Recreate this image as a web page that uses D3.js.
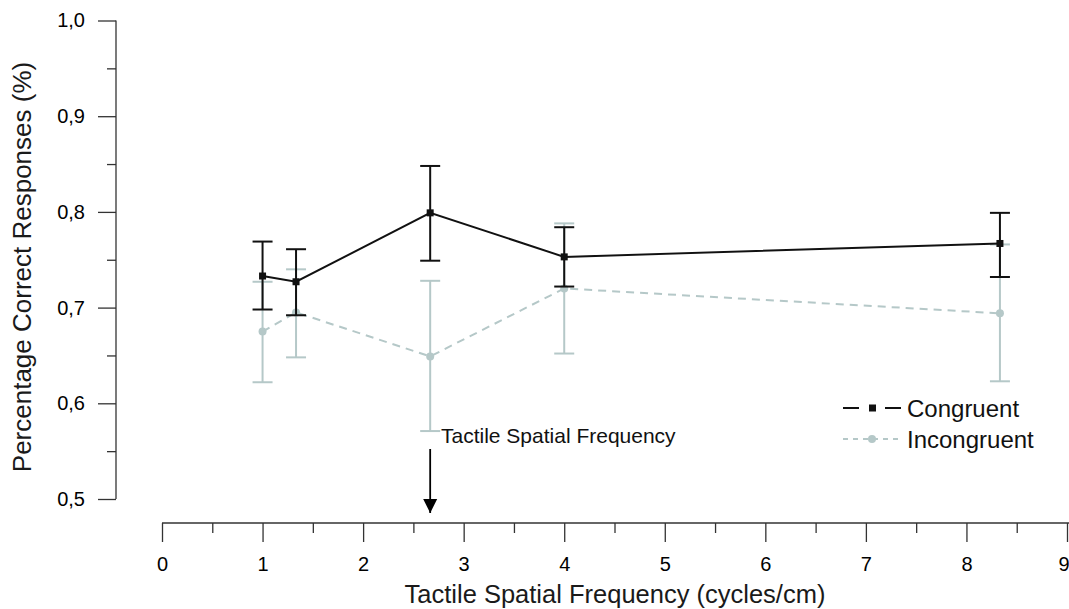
<!DOCTYPE html>
<html><head><meta charset="utf-8">
<script src="https://cdn.jsdelivr.net/npm/d3@7"></script>
<style>body{margin:0;background:#fff;}svg{display:block;font-family:"Liberation Sans",Arial,sans-serif;}</style>
</head><body>
<svg id="c" width="1069" height="609"></svg>
<script>
const freqs = [1, 1.333, 2.667, 4, 8.333];
const congruentMean = [0.733, 0.727, 0.799, 0.753, 0.767];
const congruentLow  = [0.698, 0.692, 0.749, 0.722, 0.732];
const congruentHigh = [0.769, 0.761, 0.848, 0.784, 0.799];
const incongruentMean = [0.675, 0.695, 0.649, 0.720, 0.694];
const incongruentLow  = [0.622, 0.648, 0.571, 0.652, 0.623];
const incongruentHigh = [0.727, 0.740, 0.728, 0.788, 0.766];
const xTicks = [0,1,2,3,4,5,6,7,8,9];
const yTicks = [0.5,0.6,0.7,0.8,0.9,1.0];

const svg = d3.select("#c");
const x = d3.scaleLinear().domain([0,9]).range([162,1067]);
const y = d3.scaleLinear().domain([0.5,1.0]).range([499,20.5]);
const fmt = d => d3.format(".1f")(d).replace(".", ",");

// Y axis
const yAxis = svg.append("g").attr("transform","translate(116,0)")
  .call(d3.axisLeft(y).tickValues(yTicks).tickSize(18).tickPadding(10).tickFormat(fmt));
yAxis.select(".domain").attr("d","M0,20.5V499");
yAxis.selectAll(".tick text").style("font-size","20px").attr("x",-31);
const yMinor = d3.range(0.55,1.0,0.1);
svg.append("g").attr("transform","translate(116,0)")
  .call(d3.axisLeft(y).tickValues(yMinor).tickSize(9).tickFormat(""))
  .select(".domain").remove();

// X axis
const xAxis = svg.append("g").attr("transform","translate(0,523)")
  .call(d3.axisBottom(x).tickValues(xTicks).tickSize(19).tickFormat(d3.format("d")));
xAxis.select(".domain").attr("d","M162,0H1069");
xAxis.selectAll(".tick text").style("font-size","20px").attr("y",48).attr("dy",0);
xAxis.selectAll(".tick text").filter(d=>d===9).attr("text-anchor","end").attr("x",2);
const xMinor = d3.range(0.5,9,1);
svg.append("g").attr("transform","translate(0,523)")
  .call(d3.axisBottom(x).tickValues(xMinor).tickSize(10).tickFormat(""))
  .select(".domain").remove();
svg.selectAll(".tick line, .domain").attr("stroke","#333").attr("stroke-width",1.3);

// Axis titles
svg.append("text").attr("x",615).attr("y",603).attr("text-anchor","middle")
  .attr("font-size",25.5).attr("fill","#1a1a1a").text("Tactile Spatial Frequency (cycles/cm)");
svg.append("text").attr("transform","translate(31,267) rotate(-90)").attr("text-anchor","middle")
  .attr("font-size",26).attr("fill","#1a1a1a").text("Percentage Correct Responses (%)");

function drawSeries(mean, low, high, color, dash, marker) {
  const g = svg.append("g");
  const pts = freqs.map((f,i)=>({f, m:mean[i], lo:low[i], hi:high[i]}));
  g.append("path").datum(pts)
    .attr("d", d3.line().x(d=>x(d.f)).y(d=>y(d.m)))
    .attr("fill","none").attr("stroke",color).attr("stroke-width",2)
    .attr("stroke-dasharray", dash);
  const eb = g.selectAll(".eb").data(pts).enter().append("g");
  eb.append("line").attr("x1",d=>x(d.f)).attr("x2",d=>x(d.f))
    .attr("y1",d=>y(d.lo)).attr("y2",d=>y(d.hi)).attr("stroke",color).attr("stroke-width",2);
  eb.append("line").attr("x1",d=>x(d.f)-10).attr("x2",d=>x(d.f)+10)
    .attr("y1",d=>y(d.lo)).attr("y2",d=>y(d.lo)).attr("stroke",color).attr("stroke-width",2);
  eb.append("line").attr("x1",d=>x(d.f)-10).attr("x2",d=>x(d.f)+10)
    .attr("y1",d=>y(d.hi)).attr("y2",d=>y(d.hi)).attr("stroke",color).attr("stroke-width",2);
  if (marker === "square") {
    g.selectAll(".mk").data(pts).enter().append("rect")
      .attr("x",d=>x(d.f)-3.5).attr("y",d=>y(d.m)-3.5).attr("width",7).attr("height",7).attr("fill",color);
  } else {
    g.selectAll(".mk").data(pts).enter().append("circle")
      .attr("cx",d=>x(d.f)).attr("cy",d=>y(d.m)).attr("r",4).attr("fill",color);
  }
}
const grey = "#b5c8c8";
drawSeries(incongruentMean, incongruentLow, incongruentHigh, grey, "8,6", "circle");
drawSeries(congruentMean, congruentLow, congruentHigh, "#111", null, "square");

// Annotation
svg.append("text").attr("x",441).attr("y",443).attr("font-size",21).attr("fill","#111").text("Tactile Spatial Frequency");
svg.append("defs").append("marker").attr("id","ah").attr("viewBox","0 0 10 10")
  .attr("refX",10).attr("refY",5).attr("markerWidth",14).attr("markerHeight",26)
  .attr("markerUnits","userSpaceOnUse").attr("orient","auto")
  .append("path").attr("d","M0,0L10,5L0,10Z").attr("fill","#000");
svg.append("line").attr("x1",x(2.667)).attr("x2",x(2.667)).attr("y1",449).attr("y2",513)
  .attr("stroke","#000").attr("stroke-width",1.8).attr("marker-end","url(#ah)");

// Legend
const leg = [{name:"Congruent", color:"#111", dash:null, marker:"square", yy:408},
             {name:"Incongruent", color:grey, dash:"5,5", marker:"circle", yy:439}];
leg.forEach(l=>{
  svg.append("line").attr("x1",843).attr("x2",901).attr("y1",l.yy).attr("y2",l.yy)
    .attr("stroke",l.color).attr("stroke-width",2).attr("stroke-dasharray", l.dash ? l.dash : "16,10,6,10,16");
  if (l.marker==="square") svg.append("rect").attr("x",869).attr("y",l.yy-3.5).attr("width",7).attr("height",7).attr("fill",l.color);
  else svg.append("circle").attr("cx",872).attr("cy",l.yy).attr("r",4).attr("fill",l.color);
  svg.append("text").attr("x",907).attr("y",l.yy+8.5).attr("font-size",24).attr("fill","#111").text(l.name);
});
</script>
</body></html>
